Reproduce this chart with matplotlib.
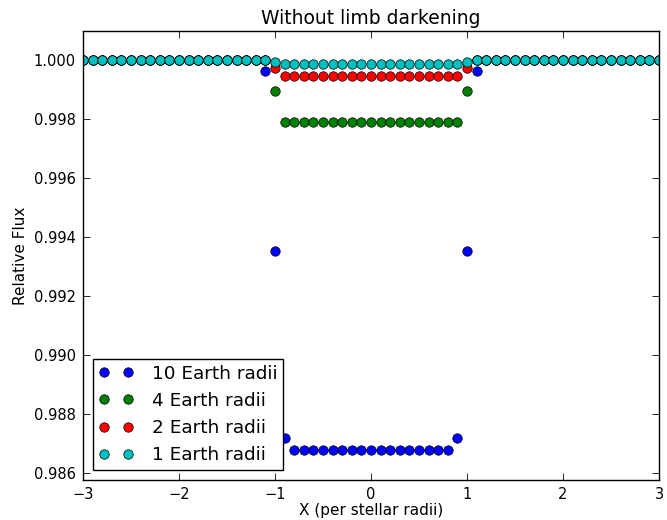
import numpy as np
import matplotlib
matplotlib.use("Agg")
import matplotlib.pyplot as plt

# Planet position across the stellar disk (in stellar radii), step 0.1
x_pos = np.round(np.arange(-30, 31) / 10.0, 1)

# Relative flux for each planet size (no limb darkening)
flux_10 = [1.0] * 19 + [0.99964, 0.99355, 0.98718] + [0.98680] * 17 + [0.98718, 0.99355, 0.99964] + [1.0] * 19
flux_4 = [1.0] * 20 + [0.99895] + [0.99792] * 19 + [0.99895] + [1.0] * 20
flux_2 = [1.0] * 20 + [0.99973] + [0.99949] * 19 + [0.99973] + [1.0] * 20
flux_1 = [1.0] * 20 + [0.99994] + [0.99987] * 19 + [0.99994] + [1.0] * 20

series_labels = ["10 Earth radii", "4 Earth radii", "2 Earth radii", "1 Earth radii"]
series_colors = [(0, 0, 1), (0, 0.5, 0), (1, 0, 0), (0, 0.75, 0.75)]

x_ticks = [-3, -2, -1, 0, 1, 2, 3]
y_ticks = [0.986, 0.988, 0.990, 0.992, 0.994, 0.996, 0.998, 1.000]

plt.rcParams["font.family"] = ["DejaVu Sans"]
fig = plt.figure(figsize=(6.67, 5.2), dpi=100, facecolor="white")
ax = fig.add_axes([83 / 667, 1 - 480 / 520, (659 - 83) / 667, (480 - 31) / 520])

for flux, lab, col in zip([flux_10, flux_4, flux_2, flux_1], series_labels, series_colors):
    ax.plot(x_pos, flux, linestyle="none", marker="o", markersize=6.8,
            markerfacecolor=col, markeredgecolor="black", markeredgewidth=0.5,
            color=col, label=lab)

ax.set_xlim(-3, 3)
ax.set_ylim(0.98577, 1.001)
ax.set_xticks(x_ticks)
ax.set_yticks(y_ticks)
ax.set_xticklabels(["\u22123", "\u22122", "\u22121", "0", "1", "2", "3"])
ax.set_yticklabels([f"{v:.3f}" for v in y_ticks])
ax.tick_params(direction="in", top=True, right=True, length=5, width=0.6,
               labelsize=10.5, pad=5, colors="black")
for s in ax.spines.values():
    s.set_linewidth(1.0)

ax.set_title("Without limb darkening", fontsize=13.5, pad=5)
ax.set_xlabel("X (per stellar radii)", fontsize=11, labelpad=1)
ax.set_ylabel("Relative Flux", fontsize=11, labelpad=4)

leg = ax.legend(loc="lower left", numpoints=2, fontsize=13.3, fancybox=False,
                framealpha=1, edgecolor="black", borderaxespad=0.55,
                handlelength=1.9, handletextpad=1.0, borderpad=0.3,
                labelspacing=0.5)
leg.get_frame().set_linewidth(1.0)

fig.savefig("out.png", dpi=100, facecolor="white")
